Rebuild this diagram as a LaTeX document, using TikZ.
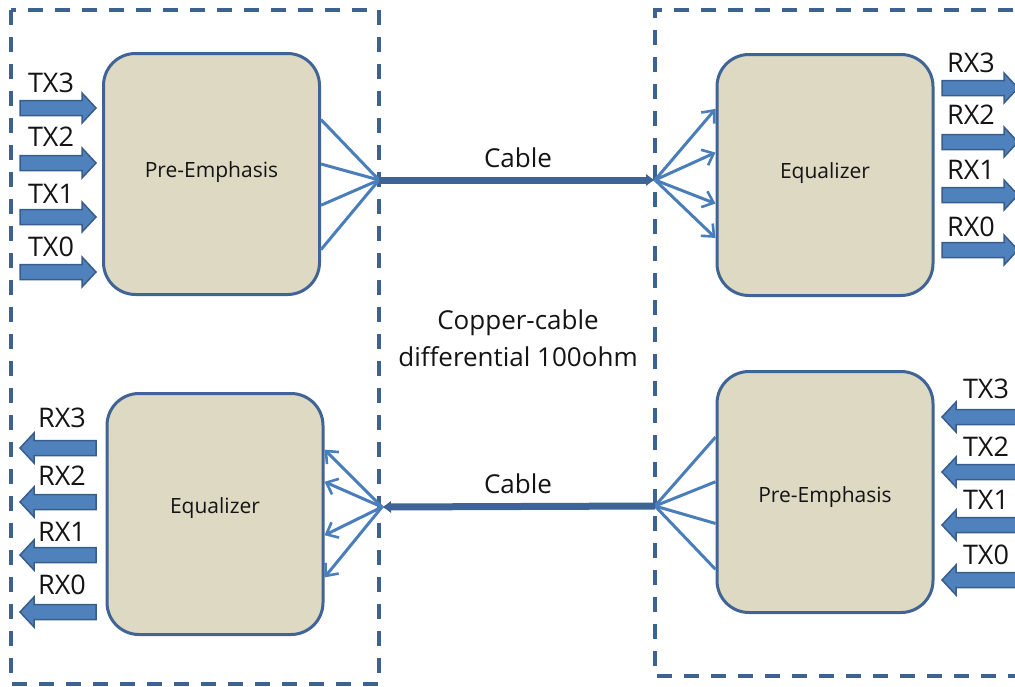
\documentclass[tikz,border=0pt]{standalone}
\usepackage{fontspec}
\setmainfont{Open Sans}
\usetikzlibrary{calc,arrows.meta}
\definecolor{dashc}{RGB}{61,97,144}
\definecolor{boxc}{RGB}{64,100,150}
\definecolor{boxfill}{RGB}{221,217,195}
\definecolor{fanc}{RGB}{74,126,187}
\definecolor{arrfill}{RGB}{79,129,189}
\definecolor{arrdraw}{RGB}{56,93,138}
\definecolor{cablec}{RGB}{62,100,150}
\definecolor{txt}{RGB}{20,20,20}
\tikzset{
  dashbox/.style={draw=dashc, line width=3.5pt, dash pattern=on 15pt off 12pt},
  unit/.style={draw=boxc, line width=3pt, fill=boxfill, rounded corners=32pt,
    minimum width=216pt, minimum height=241pt, inner sep=0pt},
  unittxt/.style={font=\fontsize{21}{25}\selectfont, text=txt, inner sep=0pt},
  fan/.style={draw=fanc, line width=3pt},
  fanarrow/.style={fan, -{Straight Barb[length=10pt,width=17pt,line width=2.6pt]}},
  cable/.style={draw=cablec, line width=7pt},
  lbl/.style={font=\fontsize{27}{30}\selectfont, text=txt, inner sep=0pt},
  cabletxt/.style={font=\fontsize{26}{30}\selectfont, text=txt, inner sep=0pt},
  blockarrow/.style={fill=arrfill, draw=arrdraw, line width=1.5pt, line join=miter},
  rarr/.pic={\path[blockarrow] (0,-7.5) -- (62,-7.5) -- (62,-15) -- (76,0) -- (62,15) -- (62,7.5) -- (0,7.5) -- cycle;},
  larr/.pic={\path[blockarrow] (0,-7.5) -- (-62,-7.5) -- (-62,-15) -- (-76,0) -- (-62,15) -- (-62,7.5) -- (0,7.5) -- cycle;}
}
\begin{document}
\begin{tikzpicture}[x=1pt,y=-1pt]
\useasboundingbox (0,0) rectangle (1015,686);
\clip (0,0) rectangle (1015,686);

% dashed enclosures
\draw[dashbox] (11,10) rectangle (379,684);
\draw[dashbox] (1040,10) -- (655,10) -- (655,676) -- (1040,676);

% hubs
\coordinate (h1) at (379,180);
\coordinate (h2) at (655,180);
\coordinate (h3) at (382,507);
\coordinate (h4) at (655,506);

% units
\node[unit, label={[unittxt, yshift=2pt]center:Pre-Emphasis}] (pe1) at (211.5,174) {};
\node[unit, label={[unittxt, yshift=2pt]center:Equalizer}] (eq1) at (825,175) {};
\node[unit, label={[unittxt, yshift=6pt]center:Equalizer}] (eq2) at (215,514) {};
\node[unit, label={[unittxt, yshift=-5pt]center:Pre-Emphasis}] (pe2) at (825,492) {};

% fans
\foreach \f in {0.277,0.459,0.628,0.810}
  \draw[fan] (h1) -- ($(pe1.north east)!\f!(pe1.south east)$);
\foreach \f in {0.229,0.408,0.617,0.758}
  \draw[fanarrow] (h2) -- ($(eq1.north west)!\f!(eq1.south west)$);
\foreach \f in {0.236,0.368,0.587,0.760}
  \draw[fanarrow] (h3) -- ($(eq2.north east)!\f!(eq2.south east)$);
\foreach \f in {0.275,0.458,0.629,0.817}
  \draw[fan] (h4) -- ($(pe2.north west)!\f!(pe2.south west)$);

% cables
\draw[cable, -{Latex[length=9pt,width=13pt]}] (h1) -- (h2);
\draw[cable, -{Latex[length=9pt,width=13pt]}] (h4) -- (h3);
\node[cabletxt, anchor=base] (cab1) at (518,167) {Cable};
\node[cabletxt, anchor=base] (cab2) at (518,493) {Cable};
\node[cabletxt, anchor=base] (cu1) at (518,329) {Copper-cable};
\node[cabletxt, anchor=base] (cu2) at (518,366) {differential 100ohm};

% block arrows
\foreach \y in {108,163,217,272} \pic at (20,\y) {rarr};
\foreach \y in {88,142,195,250} \pic at (942,\y) {rarr};
\foreach \y in {448,502,555,612} \pic at (96,\y) {larr};
\foreach \y in {417,472,525,580} \pic at (1018,\y) {larr};

% labels
\node[lbl] (ltx3) at (51,83) {TX3};
\node[lbl] (ltx2) at (51,137) {TX2};
\node[lbl] (ltx1) at (51,194) {TX1};
\node[lbl] (ltx0) at (51,247) {TX0};
\node[lbl] (rrx3) at (971,63) {RX3};
\node[lbl] (rrx2) at (971,115) {RX2};
\node[lbl] (rrx1) at (971,170) {RX1};
\node[lbl] (rrx0) at (971,227) {RX0};
\node[lbl] (lrx3) at (62,418) {RX3};
\node[lbl] (lrx2) at (62,476) {RX2};
\node[lbl] (lrx1) at (62,532) {RX1};
\node[lbl] (lrx0) at (62,585) {RX0};
\node[lbl] (rtx3) at (986,389) {TX3};
\node[lbl] (rtx2) at (986,447) {TX2};
\node[lbl] (rtx1) at (986,500) {TX1};
\node[lbl] (rtx0) at (986,555) {TX0};
\end{tikzpicture}
\end{document}
